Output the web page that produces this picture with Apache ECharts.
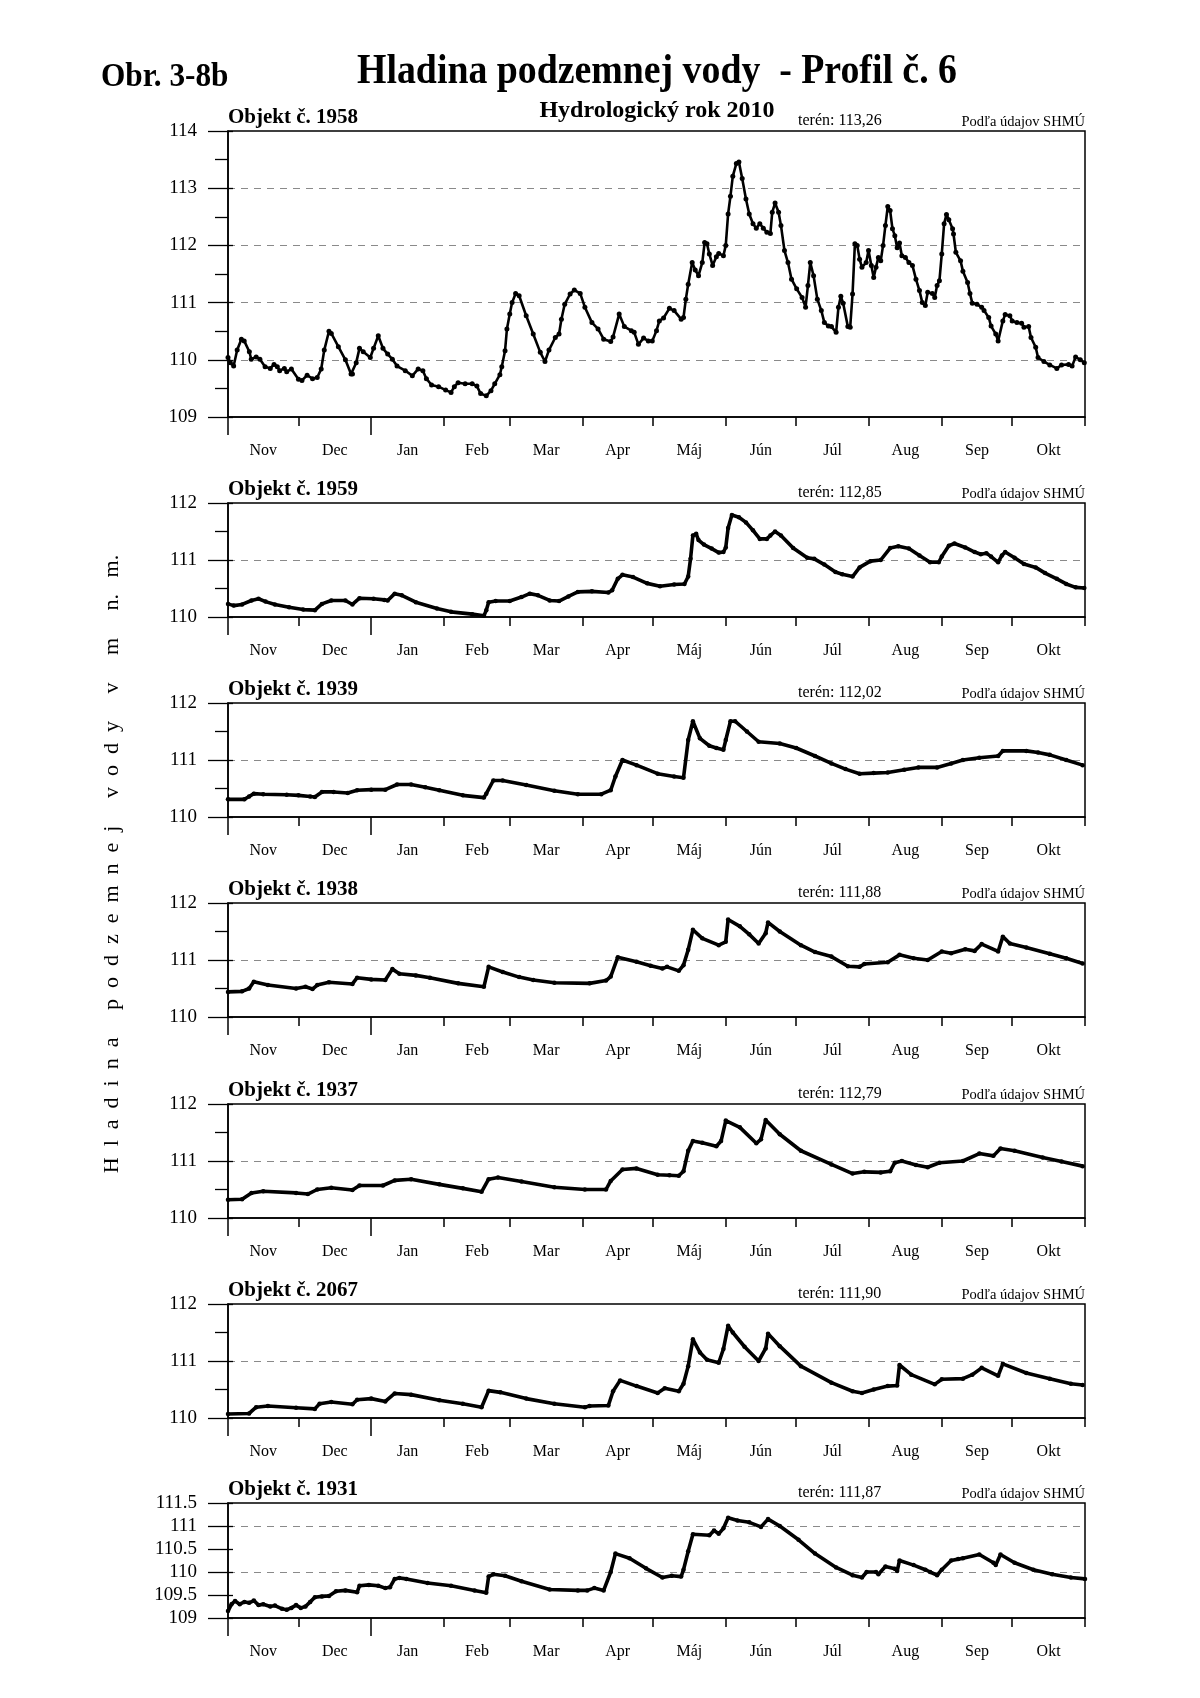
<!DOCTYPE html>
<html><head><meta charset="utf-8">
<script src="https://cdn.jsdelivr.net/npm/echarts@6/dist/echarts.min.js"></script>
<style>html,body{margin:0;padding:0;background:#fff}#c{width:1200px;height:1698px}</style>
</head><body><div id="c"></div>
<script>
// ---------- DATA ----------
const monthNames = ['Nov','Dec','Jan','Feb','Mar','Apr','Máj','Jún','Júl','Aug','Sep','Okt'];
const monthStarts = [0,30,61,92,120,151,181,212,242,273,304,334,365]; // days from 1 Nov 2009
const yearStarts = [0,61];
const objekty = ['1958','1959','1939','1938','1937','2067','1931'];
const teren = ['113,26','112,85','112,02','111,88','112,79','111,90','111,87'];
const yMin = [109,110,110,110,110,110,109];
const yMax = [114,112,112,112,112,112,111.5];
const yStep = [1,1,1,1,1,1,0.5];

// [day, level m n. m.]
const obj1958 = [[0,110.04],[1,109.95],[2.4,109.89],[3.9,110.17],[5.7,110.36],[6.9,110.33],[9.1,110.14],[9.9,110.01],[12,110.05],[13.6,110.01],[15.8,109.88],[18,109.85],[19.6,109.92],[21,109.88],[22,109.81],[24,109.85],[25,109.79],[27,109.84],[30,109.66],[31.5,109.64],[33.7,109.73],[36,109.67],[38,109.69],[39.7,109.84],[41,110.17],[43,110.5],[44,110.46],[47,110.23],[50,110.0],[52.4,109.75],[53,109.75],[54.6,109.95],[56,110.2],[57.6,110.14],[60.6,110.04],[62,110.2],[64,110.42],[66,110.2],[68,110.1],[70,110.01],[72,109.89],[75.5,109.81],[78.5,109.72],[81,109.84],[83,109.81],[84.5,109.67],[86.7,109.56],[89.7,109.53],[92.7,109.47],[95,109.43],[96.4,109.53],[98,109.6],[101,109.58],[104,109.58],[106,109.54],[107.6,109.41],[110,109.37],[112,109.46],[113.6,109.58],[115.8,109.74],[116.6,109.88],[118,110.16],[118.8,110.54],[120,110.8],[121,111.0],[122.5,111.16],[124,111.12],[127,110.77],[130,110.45],[133,110.13],[135,109.97],[136.7,110.17],[139.4,110.39],[141,110.45],[142,110.71],[143.4,110.97],[145.7,111.15],[147.5,111.22],[150,111.16],[152,110.92],[155,110.65],[157.6,110.54],[160,110.36],[163,110.32],[164,110.4],[166.6,110.8],[168.8,110.58],[171.8,110.51],[173,110.48],[174.8,110.27],[177,110.38],[179,110.33],[180.7,110.33],[182.5,110.51],[183.7,110.68],[185.5,110.73],[188,110.9],[190,110.86],[193,110.71],[194,110.74],[195,111.06],[196,111.32],[197.7,111.7],[199,111.57],[200.4,111.47],[202,111.7],[203,112.05],[204,112.03],[205,111.85],[206.4,111.65],[208,111.8],[209,111.86],[211,111.82],[212,112.0],[213,112.55],[214,112.86],[215,113.21],[216.5,113.43],[217.6,113.46],[219,113.17],[220.6,112.81],[222,112.55],[223.6,112.38],[225,112.3],[226.5,112.38],[228,112.3],[229.5,112.23],[231,112.21],[231.8,112.58],[233,112.74],[234.5,112.58],[235.5,112.35],[237,111.91],[238.5,111.7],[240,111.41],[242.2,111.24],[244.5,111.09],[246,110.92],[247,111.3],[248,111.7],[249.4,111.47],[251,111.06],[252.7,110.86],[254,110.65],[255.7,110.59],[257,110.58],[259,110.48],[260,110.92],[261,111.11],[262,110.99],[264,110.58],[265,110.57],[266,111.15],[267,112.03],[268,112.0],[269,111.76],[270,111.62],[271.8,111.7],[272.8,111.91],[274,111.65],[275,111.44],[276,111.62],[277,111.79],[278,111.73],[279,112.0],[280,112.35],[281,112.68],[282,112.61],[283,112.29],[284,112.17],[285,111.96],[286,112.04],[287,111.82],[288.5,111.79],[290,111.7],[291.5,111.65],[293,111.41],[294.5,111.21],[295.7,111.0],[297,110.95],[298,111.18],[300,111.16],[301,111.09],[302,111.3],[303,111.38],[304,111.85],[305,112.38],[306,112.54],[307,112.45],[308.6,112.29],[309,112.2],[310,111.88],[312,111.73],[313,111.55],[315,111.35],[316,111.16],[317,110.99],[319,110.97],[321,110.92],[322,110.86],[324,110.74],[325,110.59],[327,110.45],[328,110.33],[330,110.68],[331,110.79],[333,110.77],[334,110.68],[336,110.65],[338,110.64],[339,110.57],[341,110.58],[342,110.39],[344,110.22],[345,110.04],[347.5,109.97],[350,109.91],[353,109.85],[355,109.91],[358,109.92],[359.5,109.89],[361,110.05],[363,110.0],[364.7,109.95]];

const obj1959 = [[0,110.23],[2.4,110.2],[6,110.22],[10,110.29],[13,110.32],[16,110.27],[20,110.22],[26,110.17],[32,110.13],[37,110.12],[40,110.23],[44,110.29],[50,110.29],[53,110.22],[56,110.33],[62,110.32],[66.6,110.3],[68,110.29],[71,110.41],[74,110.38],[80,110.26],[89,110.15],[95,110.09],[104,110.05],[109,110.02],[110,110.12],[111,110.26],[114,110.28],[120,110.28],[125,110.35],[128.5,110.41],[132,110.38],[137,110.29],[141,110.28],[145,110.36],[149,110.44],[155,110.45],[162,110.43],[163.6,110.47],[166,110.67],[168,110.74],[172.5,110.7],[178.5,110.59],[184,110.54],[190,110.57],[194.4,110.58],[196,110.71],[197,111.02],[198,111.43],[199.4,111.46],[200.4,111.35],[202.7,111.27],[206,111.2],[209,111.13],[211,111.14],[212,111.22],[213,111.56],[214.6,111.79],[217.6,111.75],[220.6,111.66],[223.6,111.52],[226.5,111.37],[229.5,111.37],[231,111.43],[233,111.5],[235.5,111.43],[240.7,111.21],[246.7,111.04],[249.7,111.02],[254,110.92],[258.7,110.79],[261.6,110.75],[266,110.71],[269,110.87],[273.6,110.98],[278,111.0],[282,111.21],[285.5,111.24],[290,111.2],[294.5,111.08],[299,110.96],[302.7,110.96],[304,111.06],[307,111.25],[309.4,111.29],[314,111.22],[318,111.14],[320.6,111.1],[323,111.12],[325,111.06],[328,110.96],[329.6,111.08],[331,111.14],[335,111.04],[339,110.93],[344,110.87],[348,110.77],[353,110.67],[357,110.58],[361,110.52],[364.7,110.51]];

const obj1939 = [[0,110.31],[7,110.31],[9,110.36],[11,110.41],[15,110.4],[25,110.39],[30,110.38],[35,110.36],[37,110.35],[40,110.44],[45,110.44],[51,110.42],[55,110.47],[61,110.48],[67,110.48],[72,110.57],[78,110.57],[84,110.52],[90,110.47],[100,110.38],[109,110.34],[110,110.41],[113,110.64],[117,110.64],[127,110.56],[139,110.46],[149,110.4],[159,110.4],[163,110.47],[165,110.71],[168,111.0],[174,110.91],[183,110.76],[190,110.71],[194,110.69],[196,111.35],[198,111.68],[201,111.38],[205,111.25],[208,111.21],[211,111.18],[212,111.35],[214,111.68],[216,111.68],[221,111.5],[226,111.32],[235,111.29],[242,111.21],[250,111.07],[257,110.94],[263,110.84],[269,110.76],[275,110.77],[281,110.78],[288,110.83],[294,110.87],[302,110.87],[308,110.94],[313,111.0],[320,111.04],[328,111.07],[330,111.16],[340,111.16],[345,111.13],[350,111.09],[357,111.0],[364,110.91]];

const obj1938 = [[0,110.44],[6,110.45],[9,110.5],[11,110.62],[17,110.56],[29,110.5],[33,110.53],[36,110.49],[38,110.56],[43,110.61],[53,110.58],[55,110.69],[61,110.66],[67,110.65],[70,110.84],[73,110.76],[80,110.73],[86,110.69],[98,110.59],[109,110.53],[111,110.88],[117,110.79],[124,110.7],[130,110.65],[139,110.6],[154,110.59],[161,110.64],[163,110.71],[166,111.05],[174,110.97],[180,110.9],[185,110.85],[187,110.88],[192,110.81],[194,110.91],[196,111.18],[198,111.53],[202,111.38],[209,111.26],[212,111.32],[213,111.71],[218,111.59],[222,111.45],[226,111.29],[229,111.47],[230,111.66],[235,111.5],[244,111.26],[250,111.14],[257,111.06],[264,110.89],[269,110.88],[271,110.93],[281,110.96],[286,111.09],[292,111.03],[298,111.0],[304,111.15],[308,111.12],[314,111.19],[318,111.16],[321,111.28],[328,111.15],[330,111.41],[333,111.29],[340,111.22],[350,111.11],[357,111.03],[364,110.94]];

const obj1937 = [[0,110.32],[6,110.33],[10,110.44],[15,110.47],[29,110.44],[34,110.42],[38,110.5],[44,110.53],[53,110.49],[56,110.57],[66,110.57],[71,110.66],[78,110.68],[90,110.59],[100,110.52],[108,110.46],[111,110.68],[115,110.71],[125,110.64],[139,110.54],[152,110.5],[161,110.5],[163,110.65],[168,110.85],[174,110.87],[183,110.76],[188,110.75],[192,110.74],[194,110.82],[196,111.18],[198,111.35],[202,111.32],[208,111.26],[210,111.35],[212,111.71],[218,111.59],[225,111.31],[227,111.38],[229,111.72],[235,111.47],[244,111.18],[257,110.94],[266,110.78],[271,110.81],[278,110.8],[282,110.82],[284,110.97],[287,111.0],[293,110.93],[298,110.89],[303,110.97],[313,111.0],[320,111.13],[326,111.09],[329,111.22],[335,111.18],[347,111.06],[355,110.99],[364,110.91]];

const obj2067 = [[0,110.07],[9,110.08],[12,110.19],[17,110.21],[29,110.18],[37,110.16],[39,110.25],[44,110.28],[53,110.24],[55,110.32],[61,110.34],[67,110.29],[71,110.43],[78,110.41],[90,110.31],[100,110.25],[108,110.19],[111,110.48],[116,110.45],[127,110.34],[139,110.25],[152,110.19],[154,110.21],[162,110.22],[164,110.47],[167,110.66],[174,110.56],[183,110.44],[186,110.52],[192,110.47],[194,110.6],[196,110.91],[198,111.38],[201,111.15],[204,111.02],[209,110.97],[211,111.21],[213,111.62],[215,111.5],[220,111.25],[226,111.0],[229,111.22],[230,111.48],[235,111.26],[244,110.91],[257,110.62],[266,110.47],[270,110.44],[275,110.5],[281,110.56],[285,110.57],[286,110.93],[291,110.76],[301,110.59],[304,110.68],[313,110.69],[317,110.76],[321,110.88],[328,110.74],[330,110.95],[340,110.79],[350,110.69],[359,110.6],[364,110.58]];

const obj1931 = [[0,109.15],[1.5,109.3],[3,109.37],[5,109.3],[7,109.35],[9,109.33],[11,109.38],[13,109.28],[15,109.3],[18,109.25],[20,109.27],[23,109.2],[25,109.18],[27,109.22],[29,109.28],[31,109.22],[33,109.25],[35,109.35],[37,109.45],[40,109.47],[43,109.48],[46,109.58],[50,109.6],[55,109.56],[56,109.7],[60,109.72],[64,109.7],[67,109.65],[69,109.67],[71,109.85],[73,109.87],[76,109.85],[85,109.76],[95,109.7],[105,109.6],[110,109.55],[111,109.9],[113,109.95],[118,109.92],[125,109.8],[137,109.62],[149,109.6],[153,109.6],[156,109.65],[160,109.6],[163,110.0],[165,110.4],[171,110.3],[178,110.08],[185,109.88],[189,109.92],[193,109.9],[194,110.05],[196,110.45],[198,110.82],[205,110.8],[207,110.9],[209,110.83],[211,110.95],[213,111.18],[217,111.12],[222,111.08],[227,110.98],[230,111.15],[235,111.0],[243,110.7],[250,110.4],[259,110.1],[266,109.93],[270,109.88],[272,110.0],[276,110.0],[277,109.95],[280,110.12],[284,110.07],[285,110.02],[286,110.25],[292,110.15],[297,110.05],[299,110.0],[302,109.93],[304,110.05],[308,110.25],[311,110.28],[313,110.3],[320,110.38],[326,110.2],[327,110.15],[329,110.38],[335,110.2],[343,110.05],[351,109.95],[359,109.88],[365,109.85]];

const panelData = [obj1958, obj1959, obj1939, obj1938, obj1937, obj2067, obj1931];

// ---------- LAYOUT ----------
const FONT = '"Liberation Serif","Times New Roman",serif';
const gridLeft = 228, gridWidth = 857;
const gridTops = [131, 503, 703, 903, 1104, 1304, 1503];
const gridHeights = [286, 114, 114, 114, 114, 114, 115];
const monthMids = monthStarts.slice(0, -1).map((s, k) => (s + monthStarts[k + 1]) / 2);

const grids = [], xAxes = [], yAxes = [], series = [], graphic = [];
const black = '#000';

panelData.forEach((data, i) => {
  grids.push({left: gridLeft, width: gridWidth, top: gridTops[i], height: gridHeights[i],
    show: true, borderColor: black, borderWidth: 1.5, backgroundColor: 'transparent'});
  const xb = {type: 'value', gridIndex: i, min: 0, max: 365, position: 'bottom', splitLine: {show: false}};
  xAxes.push(Object.assign({}, xb, {
    axisLine: {show: true, onZero: false, lineStyle: {color: black, width: 1.5}},
    axisTick: {show: true, inside: false, length: 9, customValues: monthStarts, lineStyle: {color: black, width: 1.5}},
    axisLabel: {show: false}
  }));
  xAxes.push(Object.assign({}, xb, {
    axisLine: {show: false, onZero: false},
    axisTick: {show: true, inside: false, length: 18, customValues: yearStarts, lineStyle: {color: black, width: 1.5}},
    axisLabel: {show: false}
  }));
  xAxes.push(Object.assign({}, xb, {
    axisLine: {show: false, onZero: false},
    axisTick: {show: false},
    axisLabel: {show: true, customValues: monthMids, margin: 26, color: black, fontFamily: FONT, fontSize: 16,
      formatter: v => monthNames[monthMids.indexOf(v)]}
  }));

  const yb = {type: 'value', gridIndex: i, min: yMin[i], max: yMax[i], position: 'left'};
  yAxes.push(Object.assign({}, yb, {
    interval: yStep[i],
    axisLine: {show: true, onZero: false, lineStyle: {color: black, width: 1.5}},
    axisTick: {show: true, inside: false, length: 20, lineStyle: {color: black, width: 1.3}},
    minorTick: {show: yStep[i] === 1, splitNumber: 2, length: 13, lineStyle: {color: black, width: 1.3}},
    axisLabel: {show: true, margin: 31, color: black, fontFamily: FONT, fontSize: 19},
    splitLine: {show: false}
  }));
  yAxes.push(Object.assign({}, yb, {
    interval: 1,
    axisLine: {show: false, onZero: false}, axisTick: {show: false}, axisLabel: {show: false},
    splitLine: {show: true, showMinLine: false, showMaxLine: false,
      lineStyle: {color: '#8a8a8a', width: 1, type: [7, 6]}}
  }));
  yAxes.push(Object.assign({}, yb, {
    interval: yStep[i],
    axisLine: {show: false, onZero: false},
    axisTick: {show: true, inside: true, length: 5, lineStyle: {color: black, width: 1.3}},
    axisLabel: {show: false}, splitLine: {show: false}
  }));

  series.push({type: 'line', xAxisIndex: i * 3, yAxisIndex: i * 3, data: data,
    symbol: 'circle', symbolSize: i === 0 ? 5 : 4.5, showSymbol: true,
    lineStyle: {color: black, width: i === 0 ? 2.6 : 3.6}, itemStyle: {color: black},
    z: 5, animation: false, silent: true});

  const top = gridTops[i];
  graphic.push({type: 'text', x: gridLeft, y: top - 13, style: {text: 'Objekt č. ' + objekty[i],
    font: 'bold 21px ' + FONT, fill: black, textAlign: 'left', textVerticalAlign: 'middle', align: 'left', verticalAlign: 'middle'}});
  graphic.push({type: 'text', x: 798, y: top - 10, style: {text: 'terén: ' + teren[i],
    font: '16px ' + FONT, fill: black, textAlign: 'left', textVerticalAlign: 'middle', align: 'left', verticalAlign: 'middle'}});
  graphic.push({type: 'text', x: gridLeft + gridWidth, y: top - 9, style: {text: 'Podľa údajov SHMÚ',
    font: '14.5px ' + FONT, fill: black, textAlign: 'right', textVerticalAlign: 'middle', align: 'right', verticalAlign: 'middle'}});
});

graphic.push({type: 'text', x: 101, y: 77, scaleX: 0.92, style: {text: 'Obr. 3-8b',
  font: 'bold 34px ' + FONT, fill: black, textAlign: 'left', textVerticalAlign: 'middle', align: 'left', verticalAlign: 'middle'}});
graphic.push({type: 'text', x: 657, y: 72, scaleX: 0.9, style: {text: 'Hladina podzemnej vody  - Profil č. 6',
  font: 'bold 42px ' + FONT, fill: black, textAlign: 'center', textVerticalAlign: 'middle', align: 'center', verticalAlign: 'middle'}});
graphic.push({type: 'text', x: 657, y: 111, style: {text: 'Hydrologický rok 2010',
  font: 'bold 24px ' + FONT, fill: black, textAlign: 'center', textVerticalAlign: 'middle', align: 'center', verticalAlign: 'middle'}});
graphic.push({type: 'text', x: 112, y: 864, rotation: Math.PI / 2, style: {
  text: 'H  l  a  d  i  n  a     p  o  d  z  e  m  n  e  j     v  o  d  y     v     m     n.   m.',
  font: '22px ' + FONT, fill: black, textAlign: 'center', textVerticalAlign: 'middle', align: 'center', verticalAlign: 'middle'}});

const chart = echarts.init(document.getElementById('c'), null, {renderer: 'canvas'});
chart.setOption({
  backgroundColor: '#fff',
  animation: false,
  grid: grids, xAxis: xAxes, yAxis: yAxes, series: series, graphic: graphic
});
</script></body></html>
